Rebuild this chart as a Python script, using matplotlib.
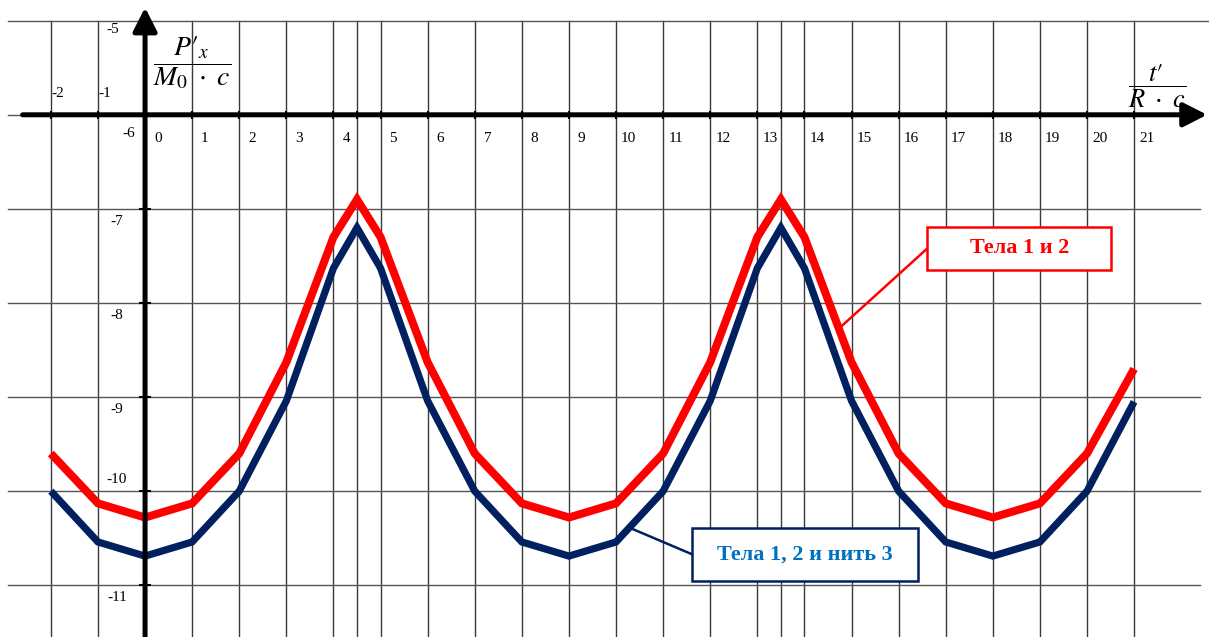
import matplotlib
matplotlib.use("Agg")
import matplotlib.pyplot as plt
from matplotlib.patches import Rectangle

plt.rcParams["font.family"] = ["Liberation Serif", "DejaVu Serif"]
plt.rcParams["mathtext.fontset"] = "stix"

# ── Data ─────────────────────────────────────────────────────────────────────
t = [-2, -1, 0, 1, 2, 3, 4, 4.5, 5, 6, 7, 8, 9, 10, 11, 12, 13, 13.5, 14,
     15, 16, 17, 18, 19, 20, 21]
bodies_12 = [-9.6, -10.13, -10.28, -10.13, -9.6, -8.63, -7.3, -6.9, -7.3,
             -8.63, -9.6, -10.13, -10.28, -10.13, -9.6, -8.63, -7.3, -6.9,
             -7.3, -8.63, -9.6, -10.13, -10.28, -10.13, -9.6, -8.7]
bodies_12_thread = [-10.0, -10.54, -10.69, -10.54, -10.0, -9.04, -7.63, -7.2,
                    -7.63, -9.04, -10.0, -10.54, -10.69, -10.54, -10.0, -9.04,
                    -7.63, -7.2, -7.63, -9.04, -10.0, -10.54, -10.69, -10.54,
                    -10.0, -9.05]
x_ticks = list(range(-2, 22))
y_ticks = [-5, -6, -7, -8, -9, -10, -11]
label_red = "Тела 1 и 2"
label_navy = "Тела 1, 2 и нить 3"

RED = "#FF0000"
NAVY = "#002060"
BLUE_TXT = "#0070C0"

fig = plt.figure(figsize=(12.09, 6.37), dpi=100)
ax = fig.add_axes([0, 0, 1, 1])
ax.set_xlim(-3.08, 22.59)
ax.set_ylim(-11.55, -4.78)
ax.axis("off")

# ── Grid ─────────────────────────────────────────────────────────────────────
for xv in t:
    ax.plot([xv, xv], [-5.0, -11.6], color="#3a3a3a", lw=1.0, zorder=1)
for yv in y_ticks:
    right = 22.6 if yv == -5 else 22.4
    ax.plot([-2.9, right], [yv, yv], color="#555555", lw=1.0, zorder=1)

# ── Axes with arrows ─────────────────────────────────────────────────────────
arrow = dict(arrowstyle="-|>,head_length=0.55,head_width=0.28", lw=3.6,
             color="black", mutation_scale=26, shrinkA=0, shrinkB=0)
ax.annotate("", xy=(22.55, -6), xytext=(-2.6, -6), arrowprops=arrow, zorder=5)
ax.annotate("", xy=(0, -4.86), xytext=(0, -11.6), arrowprops=arrow, zorder=5)
ax.plot([xv for xv in t if xv != 0], [-6] * (len(t) - 1), "|", color="black",
        ms=6, mew=1.5, zorder=5)
ax.plot([0] * len(y_ticks), y_ticks, "_", color="black", ms=8, mew=1.5,
        zorder=5)

# ── Tick labels ──────────────────────────────────────────────────────────────
for xv in x_ticks:
    if xv < 0:
        ax.text(xv + 0.15, -5.77, str(xv), fontsize=11, ha="center",
                va="center")
    else:
        ax.text(xv + 0.27, -6.25, str(xv), fontsize=11, ha="center",
                va="center")
for yv in y_ticks:
    if yv == -5:
        px, py = -0.68, -5.09
    elif yv == -6:
        px, py = -0.34, -6.2
    elif yv == -10:
        px, py = -0.6, -9.88
    else:
        px, py = -0.6, yv - 0.13
    ax.text(px, py, str(yv), fontsize=11, ha="center", va="center")

# ── Axis titles ──────────────────────────────────────────────────────────────
ax.text(1.0, -5.45, r"$\dfrac{P\prime_{x}}{M_0\ \cdot\ c}$", fontsize=20,
        ha="center", va="center", zorder=6)
ax.text(21.49, -5.70, r"$\dfrac{t\prime}{R\ \cdot\ c}$", fontsize=19,
        ha="center", va="center", zorder=6)

# ── Curves ───────────────────────────────────────────────────────────────────
ax.plot(t, bodies_12, color=RED, lw=5.8, solid_joinstyle="miter",
        solid_capstyle="butt", zorder=3)
ax.plot(t, bodies_12_thread, color=NAVY, lw=5.2, solid_joinstyle="miter",
        solid_capstyle="butt", zorder=3)


# ── Callout boxes ────────────────────────────────────────────────────────────
def callout(cx, cy, w, h, tip, text, edge, txt_color):
    ax.plot([cx - w / 2, tip[0]], [cy, tip[1]], color=edge, lw=1.8, zorder=7)
    ax.add_patch(Rectangle((cx - w / 2, cy - h / 2), w, h, facecolor="white",
                           edgecolor=edge, lw=1.8, zorder=8))
    ax.text(cx, cy, text, color=txt_color, fontsize=16, fontweight="bold",
            ha="center", va="center", zorder=9)


callout(18.56, -7.42, 3.9, 0.46, (14.78, -8.25), label_red, RED, RED)
callout(14.01, -10.67, 4.8, 0.56, (10.34, -10.40), label_navy, NAVY, BLUE_TXT)

fig.savefig("out.png", dpi=100)
